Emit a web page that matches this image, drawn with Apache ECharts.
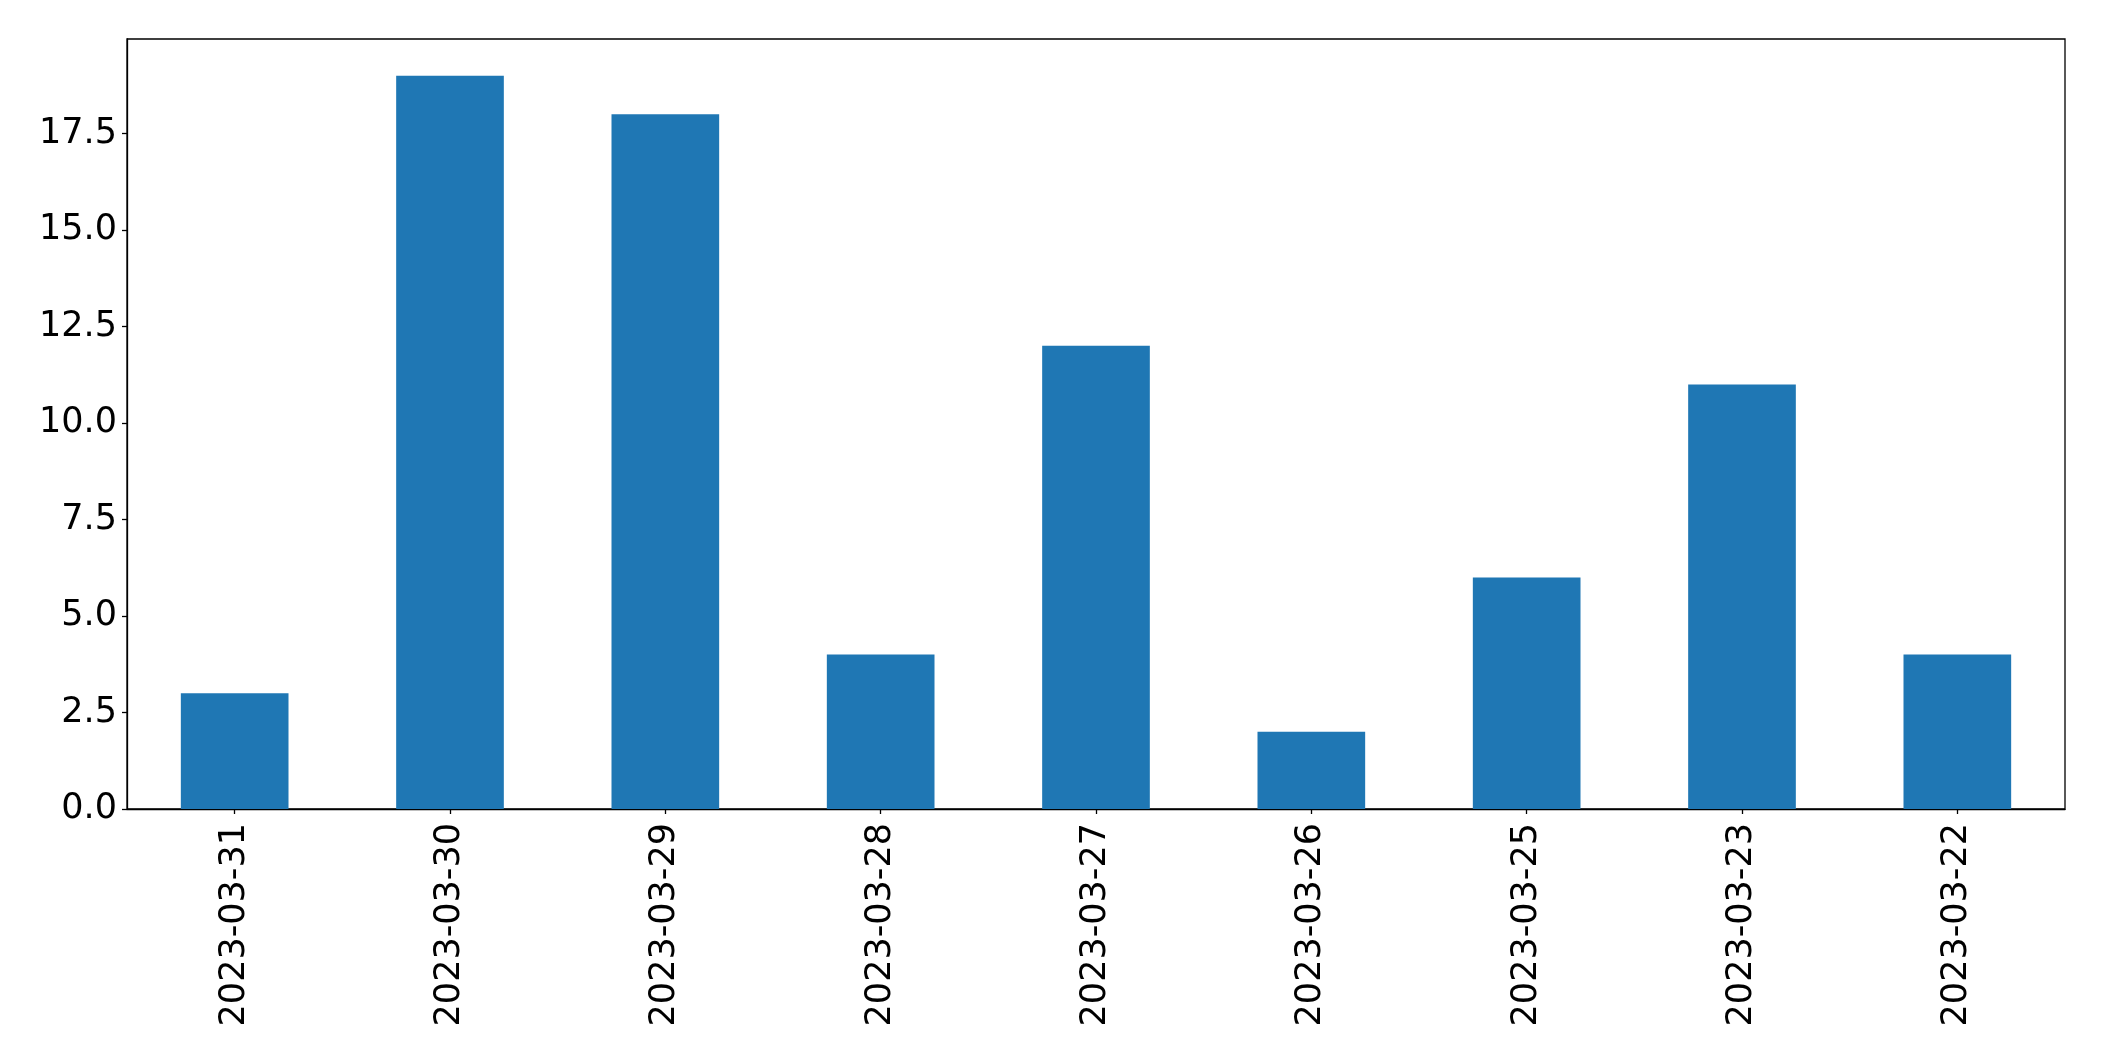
<!DOCTYPE html>
<html>
<head>
<meta charset="utf-8">
<script src="https://cdn.jsdelivr.net/npm/echarts@6/dist/echarts.min.js"></script>
<style>html,body{margin:0;padding:0;background:#fff}#c{width:2104px;height:1061px}</style>
</head>
<body>
<div id="c"></div>
<script>
const categories = ['2023-03-31','2023-03-30','2023-03-29','2023-03-28','2023-03-27','2023-03-26','2023-03-25','2023-03-23','2023-03-22'];
const values = [3, 19, 18, 4, 12, 2, 6, 11, 4];
const yMax = 19.95;
const yInterval = 2.5;

const chart = echarts.init(document.getElementById('c'), null, {renderer: 'canvas'});
const font = 'DejaVu Sans';
chart.setOption({
  animation: false,
  grid: {left: 127, right: 39, top: 39, bottom: 252, show: true, borderColor: '#000', borderWidth: 1.3, backgroundColor: 'transparent'},
  xAxis: {
    type: 'category',
    data: categories,
    boundaryGap: true,
    axisLine: {show: true, lineStyle: {color: '#000', width: 1.3}},
    axisTick: {show: true, alignWithLabel: true, length: 5, lineStyle: {color: '#000', width: 1.3}},
    axisLabel: {rotate: 90, color: '#000', fontFamily: font, fontSize: 35, margin: 14, interval: 0},
    splitLine: {show: false}
  },
  yAxis: {
    type: 'value',
    min: 0,
    max: yMax,
    interval: yInterval,
    axisLine: {show: true, lineStyle: {color: '#000', width: 1.3}},
    axisTick: {show: true, length: 5, lineStyle: {color: '#000', width: 1.3}},
    axisLabel: {color: '#000', fontFamily: font, fontSize: 35, margin: 10, showMaxLabel: false,
      formatter: v => (Math.abs(v / yInterval - Math.round(v / yInterval)) < 1e-6 ? v.toFixed(1) : '')},
    splitLine: {show: false}
  },
  series: [{
    type: 'bar',
    data: values,
    barWidth: '50%',
    itemStyle: {color: '#1f77b4'}
  }]
});
</script>
</body>
</html>
